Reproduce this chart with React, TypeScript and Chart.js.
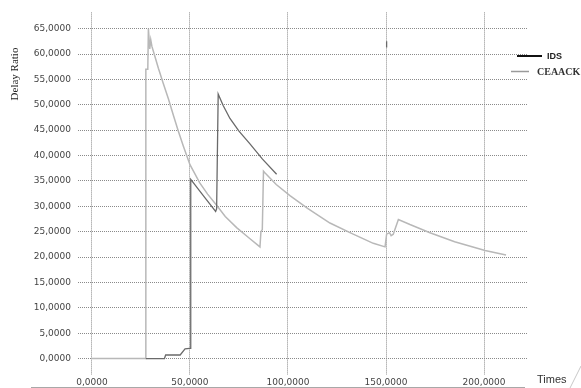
import React, { useEffect, useRef } from "react";
import { Chart, registerables } from "chart.js";

Chart.register(...registerables);

const X_TICKS = [0, 50, 100, 150, 200];
const Y_TICKS = [0, 5, 10, 15, 20, 25, 30, 35, 40, 45, 50, 55, 60, 65];

const IDS_X = [27.5, 37, 37.6, 45, 47.5, 49.8, 50.2, 50.4, 51, 57, 63.1, 63.6, 64.4, 67, 70.4, 75, 80.6, 87, 94.2, 94.3, 150.3, 150.3];
const IDS_Y: (number | null)[] = [0, 0, 0.7, 0.7, 1.9, 2, 2, 35.3, 35, 32, 29, 29.5, 52.1, 49.8, 47.3, 44.8, 42.3, 39.3, 36.3, null, 61.3, 62.5];

const CEAACK_X = [0, 27.5, 27.5, 28.5, 28.8, 29.5, 30, 30.6, 31.3, 33.9, 36.4, 39, 41.5, 44, 46.6, 50, 55, 59, 63.6, 68, 73.8, 80, 85.7, 86.2, 86.9, 87.5, 88.2, 94, 101, 110, 121.4, 131.6, 143.5, 149.5, 150.3, 151.8, 152.6, 153.7, 156.3, 162.2, 172.4, 185, 200.5, 211.2];
const CEAACK_Y = [0, 0, 57, 57, 65, 61, 62.8, 61.5, 60.6, 57.2, 54.2, 51.2, 48, 44.9, 41.9, 38.2, 34.6, 32.4, 30.2, 28, 25.8, 23.8, 22, 25, 25.4, 36.9, 36.6, 34.3, 32.1, 29.6, 26.7, 24.8, 22.7, 22, 24.5, 24.8, 24.2, 24.5, 27.4, 26.4, 24.8, 23, 21.3, 20.4];

const fmt = (v: number) => v.toFixed(4).replace(".", ",");

const overlay = {
  id: "overlay",
  afterDraw(chart: any) {
    const ctx = chart.ctx as CanvasRenderingContext2D;
    ctx.save();
    ctx.setLineDash([]);
    // y axis title
    ctx.translate(15, 74);
    ctx.rotate(-Math.PI / 2);
    ctx.font = '11px "Liberation Serif"';
    ctx.fillStyle = "#222";
    ctx.textAlign = "center";
    ctx.textBaseline = "middle";
    ctx.fillText("Delay Ratio", 0, 0);
    ctx.restore();

    ctx.save();
    ctx.setLineDash([]);
    // bottom line
    ctx.strokeStyle = "#a8a8a8";
    ctx.lineWidth = 1;
    ctx.beginPath();
    ctx.moveTo(31, 387.5);
    ctx.lineTo(525, 387.5);
    ctx.stroke();
    // slash
    ctx.strokeStyle = "#c8c8c8";
    ctx.beginPath();
    ctx.moveTo(570, 388);
    ctx.lineTo(581, 366);
    ctx.stroke();
    // Times label
    ctx.font = '11px "Liberation Sans"';
    ctx.fillStyle = "#333";
    ctx.textAlign = "left";
    ctx.textBaseline = "middle";
    ctx.fillText("Times", 537, 380);
    // legend
    ctx.strokeStyle = "#111";
    ctx.lineWidth = 2;
    ctx.beginPath();
    ctx.moveTo(517, 56);
    ctx.lineTo(542, 56);
    ctx.stroke();
    ctx.font = 'bold 9px "Liberation Sans"';
    ctx.fillStyle = "#222";
    ctx.fillText("IDS", 547, 56.5);
    ctx.strokeStyle = "#9a9a9a";
    ctx.lineWidth = 1.5;
    ctx.beginPath();
    ctx.moveTo(511, 71.5);
    ctx.lineTo(529, 71.5);
    ctx.stroke();
    ctx.font = 'bold 10px "Liberation Serif"';
    ctx.fillStyle = "#333";
    ctx.fillText("CEAACK", 537, 72);
    ctx.restore();
  },
};

export default function App() {
  const ref = useRef<HTMLCanvasElement | null>(null);
  useEffect(() => {
    if (!ref.current) return;
    const chart = new Chart(ref.current, {
      type: "line",
      data: {
        datasets: [
          {
            label: "IDS",
            data: IDS_X.map((x, i) => ({ x, y: IDS_Y[i] })) as any,
            borderColor: "#6a6a6a",
            borderWidth: 1.3,
            pointRadius: 0,
            tension: 0,
            spanGaps: false,
          },
          {
            label: "CEAACK",
            data: CEAACK_X.map((x, i) => ({ x, y: CEAACK_Y[i] })),
            borderColor: "#b8b8b8",
            borderWidth: 1.5,
            pointRadius: 0,
            tension: 0,
          },
        ],
      },
      options: {
        responsive: false,
        animation: false,
        layout: { padding: { left: 0, right: 54, top: 0, bottom: 0 } },
        plugins: { legend: { display: false }, tooltip: { enabled: false } },
        scales: {
          x: {
            type: "linear",
            min: -7.1,
            max: 221.9,
            afterBuildTicks: (s: any) => {
              s.ticks = X_TICKS.map((v) => ({ value: v }));
            },
            afterFit: (s: any) => {
              s.height = 13;
            },
            ticks: {
              autoSkip: false,
              maxRotation: 0,
              padding: 2,
              color: "#444",
              font: { family: "DejaVu Sans", size: 9 },
              callback: (v: any) => fmt(Number(v)),
            },
            grid: { color: "#8a8a8a", drawTicks: false, lineWidth: 1 },
            border: { display: false, dash: [1, 1] },
          },
          y: {
            min: -3.24,
            max: 68.2,
            afterBuildTicks: (s: any) => {
              s.ticks = Y_TICKS.map((v) => ({ value: v }));
            },
            afterFit: (s: any) => {
              s.width = 78;
            },
            ticks: {
              padding: 7,
              color: "#444",
              font: { family: "DejaVu Sans", size: 9 },
              callback: (v: any) => fmt(Number(v)),
            },
            grid: { color: "#8a8a8a", drawTicks: false, lineWidth: 1 },
            border: { display: false, dash: [1, 1] },
          },
        },
      },
      plugins: [overlay],
    });
    return () => chart.destroy();
  }, []);
  return (
    <div style={{ position: "absolute", left: 0, top: 0, width: 581, height: 388, background: "#fff" }}>
      <canvas ref={ref} width={581} height={388} style={{ display: "block" }} />
    </div>
  );
}
